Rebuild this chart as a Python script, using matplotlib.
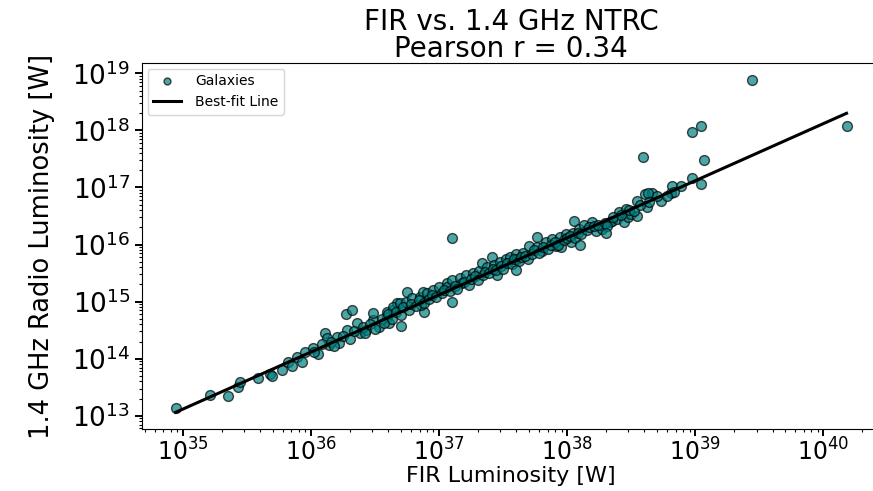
import numpy as np
import matplotlib
matplotlib.use("Agg")
import matplotlib.pyplot as plt
from matplotlib.ticker import LogLocator

# log10 luminosities [W]
# sparse low-luminosity end
fir_a = [34.94, 35.21, 35.35, 35.43, 35.44, 35.58, 35.68, 35.69, 35.77, 35.82,
         35.85, 35.89, 35.93, 35.95, 36.01, 36.05, 36.11, 36.12, 36.14, 36.20,
         36.22, 36.27, 36.32, 36.28, 36.36, 36.38, 36.43, 36.48, 36.53, 36.59,
         36.64, 36.67, 36.61, 36.48]
radio_a = [13.14, 13.37, 13.34, 13.50, 13.60, 13.67, 13.74, 13.69, 13.81, 13.94,
           13.87, 14.03, 13.94, 14.11, 14.19, 14.08, 14.45, 14.36, 14.24, 14.38,
           14.27, 14.78, 14.86, 14.50, 14.63, 14.45, 14.50, 14.68, 14.56, 14.73,
           14.86, 14.98, 14.63, 14.80]

# main band
fir_b = [36.59, 36.64, 36.69, 36.74, 36.75, 36.79, 36.85, 36.88, 36.86, 36.87,
         36.90, 36.95, 37.00, 37.06, 37.06, 37.10, 37.16, 37.18, 37.21, 37.26,
         37.31, 37.33, 37.37, 37.41, 37.43, 37.45, 37.47, 37.52, 37.55, 37.60,
         37.61, 37.65, 37.69, 37.70, 37.76, 37.76, 37.80, 37.83, 37.88, 37.91,
         37.94, 37.95, 37.99, 38.03, 38.04, 38.05, 38.09, 38.13, 38.19, 38.22,
         38.27, 38.33, 38.35, 38.39, 38.40, 38.44, 38.46, 38.47, 38.50, 38.54,
         38.54, 38.61, 38.62, 38.66, 38.73, 38.81, 38.82, 38.89, 38.97, 39.04]
radio_b = [14.82, 14.91, 14.98, 15.00, 15.17, 15.07, 15.08, 14.82, 14.94, 15.17,
           15.16, 15.21, 15.26, 15.33, 15.26, 15.38, 15.42, 15.33, 15.47, 15.51,
           15.53, 15.68, 15.61, 15.79, 15.65, 15.47, 15.70, 15.74, 15.79, 15.83,
           15.74, 15.86, 15.74, 15.97, 15.95, 16.13, 15.88, 16.04, 16.09, 15.97,
           16.14, 15.95, 16.18, 16.04, 16.21, 16.41, 16.27, 16.34, 16.39, 16.23,
           16.27, 16.39, 16.41, 16.44, 16.57, 16.39, 16.62, 16.48, 16.53, 16.76,
           16.50, 16.88, 16.65, 16.90, 16.76, 16.90, 17.02, 17.02, 17.17, 17.06]

# bright end and outliers
fir_c = [37.10, 38.59, 38.97, 39.04, 39.07, 39.44, 40.18, 38.63, 38.83, 38.78]
radio_c = [16.11, 17.54, 17.98, 18.07, 17.48, 18.89, 18.08, 16.90, 16.92, 16.85]

# overlapping points inside the dense band
fir_d = [36.02, 36.08, 36.15, 36.18, 36.25, 36.30, 36.33, 36.40, 36.42, 36.46,
         36.50, 36.55, 36.57, 36.60, 36.63, 36.66, 36.70, 36.72, 36.76, 36.78,
         36.82, 36.84, 36.88, 36.92, 36.94, 36.97, 37.02, 37.04, 37.08, 37.12,
         37.14, 37.19, 37.23, 37.25, 37.28, 37.30, 37.34, 37.36, 37.39, 37.42,
         37.44, 37.48, 37.50, 37.53, 37.57, 37.58, 37.62, 37.64, 37.67, 37.72,
         37.74, 37.78, 37.81, 37.85, 37.87, 37.90, 37.93, 37.97, 38.00, 38.02,
         38.06, 38.08, 38.11, 38.15, 38.17, 38.21, 38.24, 38.29, 38.31, 38.36,
         38.42, 38.48, 38.52, 38.57, 38.64, 38.70, 36.70, 37.10, 37.60, 38.10,
         38.30]
radio_d = [14.12, 14.25, 14.30, 14.22, 14.40, 14.35, 14.48, 14.55, 14.45, 14.60,
           14.52, 14.70, 14.62, 14.78, 14.70, 14.82, 14.76, 14.90, 14.85, 14.95,
           14.92, 15.02, 14.98, 15.05, 15.12, 15.08, 15.15, 15.20, 15.18, 15.28,
           15.22, 15.35, 15.30, 15.40, 15.45, 15.38, 15.47, 15.52, 15.50, 15.58,
           15.55, 15.62, 15.58, 15.68, 15.66, 15.75, 15.72, 15.78, 15.80, 15.84,
           15.90, 15.86, 15.95, 15.93, 16.00, 16.05, 16.00, 16.08, 16.12, 16.15,
           16.12, 16.20, 16.18, 16.25, 16.30, 16.32, 16.35, 16.38, 16.32, 16.48,
           16.52, 16.60, 16.58, 16.70, 16.75, 16.85, 14.58, 15.00, 15.55, 16.00,
           16.20]

# best-fit line in log space (log radio = slope * log fir + intercept)
fit_slope = 1.0
fit_intercept = -21.88

title = "FIR vs. 1.4 GHz NTRC\nPearson r = 0.34"

fir = 10 ** np.array(fir_a + fir_b + fir_c + fir_d)
radio = 10 ** np.array(radio_a + radio_b + radio_c + radio_d)

fig = plt.figure(figsize=(8.73, 4.91), dpi=100)
ax = fig.add_axes([0.1627, 0.1263, 0.8454, 0.7454])

ax.scatter(fir, radio, s=50, c='teal', alpha=0.7, edgecolors='black',
           linewidths=1.0, label='Galaxies', zorder=2)

xfit = np.array([fir.min(), fir.max()])
yfit = 10 ** (fit_slope * np.log10(xfit) + fit_intercept)
ax.plot(xfit, yfit, color='black', lw=2.2, label='Best-fit Line', zorder=3)

ax.set_xscale('log')
ax.set_yscale('log')
# one labelled tick per decade on both axes
for axis in (ax.xaxis, ax.yaxis):
    axis.set_major_locator(LogLocator(base=10, numticks=30))
    axis.set_minor_locator(LogLocator(base=10, subs=np.arange(2, 10), numticks=30))

ax.set_title(title, fontsize=20, linespacing=0.95, pad=3)
ax.set_xlabel("FIR Luminosity [W]", fontsize=16, labelpad=0)
ax.set_ylabel("1.4 GHz Radio Luminosity [W]", fontsize=18.5, labelpad=12)

ax.tick_params(axis='x', which='major', labelsize=17, length=5, width=1.4, pad=2)
ax.tick_params(axis='y', which='major', labelsize=19, length=5, width=1.4)
ax.tick_params(axis='both', which='minor', length=2.5, width=0.8)

ax.legend(loc='upper left', fontsize=10, markerscale=0.7, borderaxespad=0.4,
          handletextpad=1.0)

fig.savefig('out.png', dpi=100)
